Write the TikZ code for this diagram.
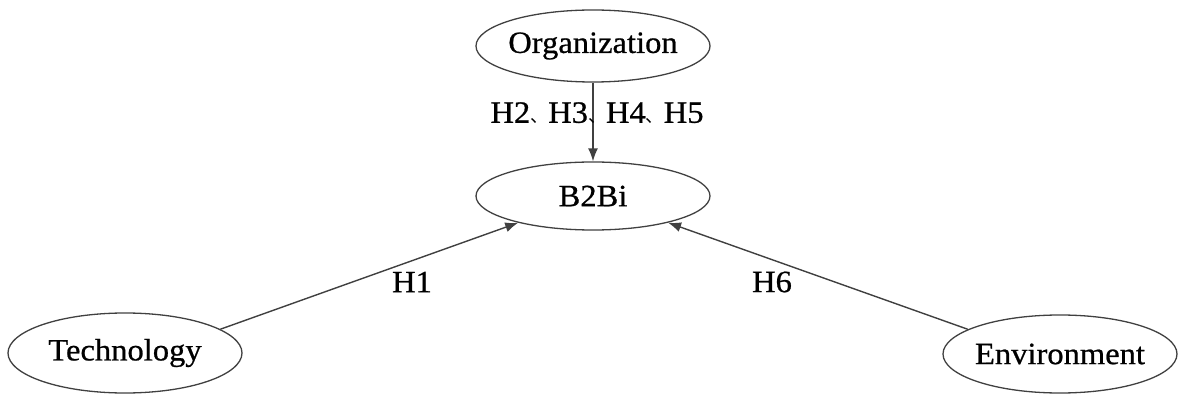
\documentclass[tikz,border=0pt]{standalone}
\usepackage{fontspec}
\setmainfont[FakeBold=0.7,FakeStretch=1.05]{Liberation Serif}
\newfontfamily\cjk{Noto Sans CJK SC}
\usetikzlibrary{shapes.geometric,arrows.meta}
\begin{document}
\begin{tikzpicture}[x=1pt,y=-1pt,
  every node/.style={font=\fontsize{31}{36}\selectfont},
  oval/.style={draw=black!75,line width=1.3pt,ellipse,inner sep=0pt,
    minimum width=234pt,minimum height=72pt},
  link/.style={draw=black!75,line width=1.4pt,-{Latex[length=13pt,width=10pt]}},
  lbl/.style={inner sep=0pt}]
\useasboundingbox (0,0) rectangle (1184,398);
\node[oval,label=center:{Organization}] (org) at (593,46) {};
\node[oval,minimum height=68pt,label=center:{B2Bi}] (b2b) at (593,196) {};
\node[oval,minimum height=80pt,label=center:{Technology}] (tech) at (125,353) {};
\node[oval,minimum height=78pt,label=center:{Environment}] (env) at (1060,354) {};
\draw[link] (org) -- (b2b);
\draw[link] (tech.14.5) -- (b2b);
\draw[link] (env.165.5) -- (b2b);
\node[lbl] (l1) at (597,113) {H2{\cjk\fontsize{18}{22}\selectfont 、}H3{\cjk\fontsize{18}{22}\selectfont 、}H4{\cjk\fontsize{18}{22}\selectfont 、}H5};
\node[lbl] (l2) at (412,282) {H1};
\node[lbl] (l3) at (772,282) {H6};
\end{tikzpicture}
\end{document}
